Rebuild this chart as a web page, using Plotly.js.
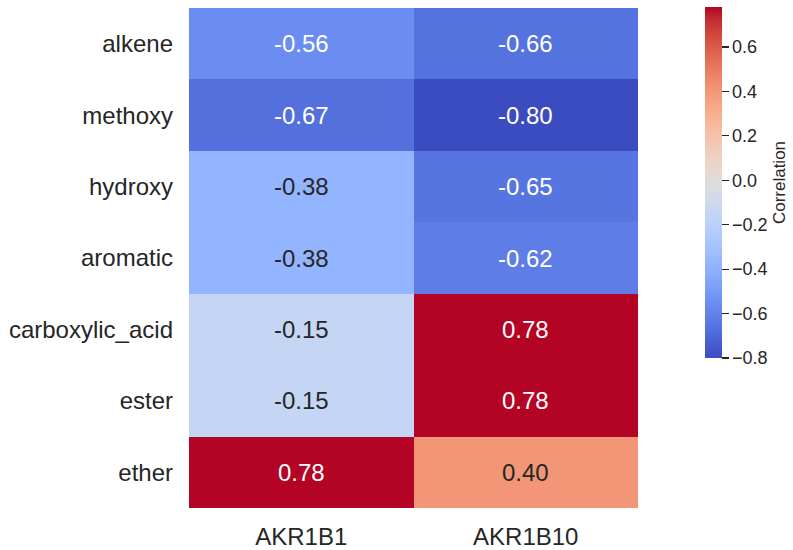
<!DOCTYPE html>
<html>
<head>
<meta charset="utf-8">
<script src="https://cdn.plot.ly/plotly-3.0.1.min.js"></script>
<style>html,body{margin:0;padding:0;background:#fff}#chart{width:793px;height:550px}</style>
</head>
<body>
<div id="chart"></div>
<script>
// Functional groups (rows) and enzymes (columns)
const groups = ["alkene", "methoxy", "hydroxy", "aromatic", "carboxylic_acid", "ester", "ether"];
const enzymes = ["AKR1B1", "AKR1B10"];
const akr1b1 = [-0.56, -0.67, -0.38, -0.38, -0.15, -0.15, 0.78];
const akr1b10 = [-0.66, -0.80, -0.65, -0.62, 0.78, 0.78, 0.40];
const cbTicks = [-0.8, -0.6, -0.4, -0.2, 0.0, 0.2, 0.4, 0.6];

// Diverging cool-warm palette (Moreland)
const coolwarmRGB = [
  [59,76,192],[68,90,204],[77,104,215],[87,117,225],[98,130,234],[108,142,241],
  [119,154,247],[130,165,251],[141,176,254],[152,185,255],[163,194,255],[174,201,253],
  [184,208,249],[194,213,244],[204,217,238],[213,219,230],[221,221,221],[229,216,209],
  [236,211,197],[241,204,185],[245,196,173],[247,187,160],[247,177,148],[247,166,135],
  [244,154,123],[241,141,111],[236,127,99],[229,112,88],[222,96,77],[213,80,66],
  [203,62,56],[192,40,47],[180,4,38]
];
const n = coolwarmRGB.length - 1;
const colorscale = coolwarmRGB.map((c, i) => [i / n, `rgb(${c[0]},${c[1]},${c[2]})`]);

const z = groups.map((_, i) => [akr1b1[i], akr1b10[i]]);
const flat = z.flat();
const zmin = Math.min(...flat);
const zmax = Math.max(...flat);

function colorAt(v) {
  const t = Math.max(0, Math.min(1, (v - zmin) / (zmax - zmin))) * n;
  const i = Math.min(n - 1, Math.floor(t));
  const f = t - i;
  const a = coolwarmRGB[i], b = coolwarmRGB[i + 1];
  return a.map((x, k) => x + (b[k] - x) * f);
}
function luminance(rgb) {
  const lin = rgb.map(c => { c /= 255; return c <= 0.03928 ? c / 12.92 : Math.pow((c + 0.055) / 1.055, 2.4); });
  return 0.2126 * lin[0] + 0.7152 * lin[1] + 0.0722 * lin[2];
}

const FONT = "Liberation Sans, Arial, sans-serif";
const INK = "#262626";

// Cell value labels: light text on dark cells, dark text on light cells
const annotations = [];
groups.forEach((g, i) => {
  enzymes.forEach((e, j) => {
    const v = z[i][j];
    const dark = luminance(colorAt(v)) > 0.408;
    annotations.push({
      x: e, y: g, xref: "x", yref: "y", text: v.toFixed(2), showarrow: false,
      font: {family: FONT, size: 24, color: dark ? INK : "#ffffff"}
    });
  });
});

const trace = {
  type: "heatmap",
  x: enzymes,
  y: groups,
  z: z,
  zmin: zmin,
  zmax: zmax,
  colorscale: colorscale,
  colorbar: {
    x: 1.149, xanchor: "left", xpad: 0,
    y: 1.002, yanchor: "top", ypad: 0,
    len: 0.702, lenmode: "fraction",
    thickness: 17,
    outlinewidth: 0,
    ticks: "outside", ticklen: 7, tickwidth: 1.2, tickcolor: INK,
    tickvals: cbTicks,
    ticktext: cbTicks.map(v => (v < 0 ? "\u2212" : "") + Math.abs(v).toFixed(1)),
    tickfont: {family: FONT, size: 18, color: INK},
    title: {text: "Correlation", side: "right", font: {family: FONT, size: 17, color: INK}}
  }
};

const layout = {
  width: 793, height: 550,
  margin: {l: 189, r: 155, t: 8, b: 42, autoexpand: false},
  paper_bgcolor: "#ffffff", plot_bgcolor: "#ffffff",
  font: {family: FONT, color: INK},
  xaxis: {
    showgrid: false, zeroline: false, showline: false, ticks: "",
    ticklabelstandoff: 12,
    tickfont: {size: 24, color: INK}
  },
  yaxis: {
    autorange: "reversed", showgrid: false, zeroline: false, showline: false, ticks: "",
    ticklabelstandoff: 15,
    tickfont: {size: 24, color: INK}
  },
  annotations: annotations
};

Plotly.newPlot("chart", [trace], layout, {displayModeBar: false, staticPlot: true});
</script>
</body>
</html>
